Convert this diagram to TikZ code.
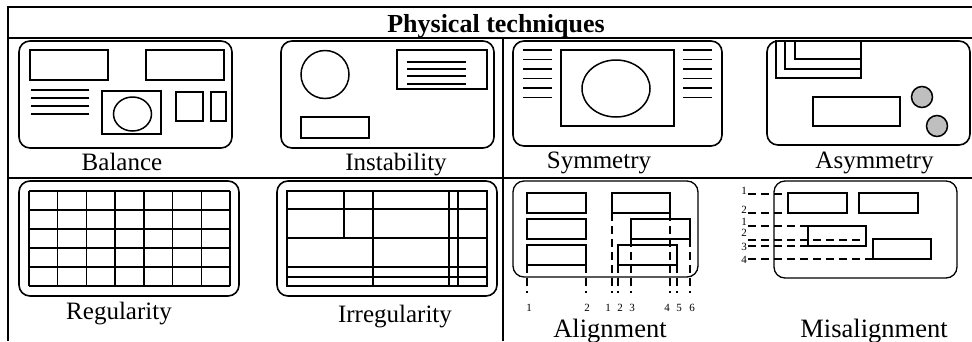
\documentclass[tikz,border=0pt]{standalone}
\usepackage{fontspec}
\setmainfont{Liberation Serif}
\begin{document}
\begin{tikzpicture}[x=1pt,y=-1pt,
  frame/.style={line width=2.4pt},
  card/.style={line width=1.6pt, rounded corners=11pt},
  shp/.style={line width=1.5pt},
  thin/.style={line width=1.2pt},
  rule/.style={line width=1.5pt},
  guide/.style={line width=1.1pt, dash pattern=on 8pt off 5pt},
  caption/.style={anchor=base, inner sep=0pt, font=\fontsize{25}{30}\selectfont},
  bigcaption/.style={anchor=base, inner sep=0pt, font=\fontsize{26.5}{32}\selectfont},
  tick/.style={anchor=base, inner sep=0pt, font=\fontsize{11}{13}\selectfont}]
\useasboundingbox (0,0) rectangle (972,341);

% table frame
\draw[frame] (8,7) -- (972,7);
\draw[frame] (8,38) -- (972,38);
\draw[frame] (8,178) -- (972,178);
\draw[frame] (8,6) -- (8,341);
\draw[frame] (503,38) -- (503,341);
\node[anchor=base, inner sep=0pt, font=\bfseries\fontsize{26}{31}\selectfont] (title) at (496,32) {Physical techniques};

% Balance
\draw[card] (19,41) rectangle (232,148);
\draw[shp] (30,50) rectangle (108,80);
\draw[shp] (146,50) rectangle (224,80);
\foreach \y in {90,98,106,114} \draw[rule] (31,\y) -- (89,\y);
\draw[shp] (102,91) rectangle (161,134);
\draw[shp] (132.5,114) ellipse [x radius=19pt, y radius=17pt];
\draw[shp] (176,92) rectangle (203,121);
\draw[shp] (211,92) rectangle (226,121);
\node[caption] (capBalance) at (122,170) {Balance};

% Instability
\draw[card] (281,41) rectangle (494,148);
\draw[shp] (325,74.5) circle [radius=24pt];
\draw[shp] (397,50) rectangle (487,89);
\foreach \y in {62,69,76,84} \draw[rule] (407,\y) -- (466,\y);
\draw[shp] (301,117) rectangle (369,138);
\node[caption] (capInstability) at (396,170) {Instability};

% Symmetry
\draw[card] (513,41) rectangle (722,146);
\foreach \y in {50,59.5,69,78.5,88,97.5} {
  \draw[rule] (523,\y) -- (552,\y);
  \draw[rule] (683,\y) -- (712,\y);
}
\draw[shp] (561,50) rectangle (674,126);
\draw[shp] (616,88.5) ellipse [x radius=34pt, y radius=28.5pt];
\node[caption] (capSymmetry) at (599,168) {Symmetry};

% Asymmetry
\draw[card] (767,41) rectangle (970,145);
\draw[shp] (776,40) |- (861,78) -- (861,40);
\draw[shp] (785,40) |- (861,69);
\draw[shp] (795,40) |- (861,59);
\draw[shp] (813,97) rectangle (900,126);
\draw[shp, fill=gray!50] (922,97) circle [radius=10.5pt];
\draw[shp, fill=gray!50] (937,126) circle [radius=10.5pt];
\node[caption] (capAsymmetry) at (874.5,168) {Asymmetry};

% Regularity
\draw[card] (19,181) rectangle (239,296);
\foreach \k in {0,...,7} \draw[rule] ({29+\k*28.714},191) -- ({29+\k*28.714},286);
\foreach \k in {0,...,5} \draw[rule] (29,{191+\k*19}) -- (230,{191+\k*19});
\node[caption] (capRegularity) at (119,319) {Regularity};

% Irregularity
\draw[card] (277,181) rectangle (497,296);
\draw[shp] (287,191) rectangle (487,286);
\foreach \y in {209,238,267,277} \draw[rule] (287,\y) -- (487,\y);
\draw[rule] (344,191) -- (344,238);
\foreach \x in {373,449,458} \draw[rule] (\x,191) -- (\x,286);
\node[caption] (capIrregularity) at (395,322) {Irregularity};

% Alignment
\draw[card, line width=1.3pt] (513,181) rectangle (698,277);
\draw[thin] (527,193) rectangle (586,213);
\draw[thin] (527,219) rectangle (586,239);
\draw[thin] (527,245) rectangle (586,265);
\draw[thin] (612,193) rectangle (670,213);
\draw[thin] (631,219) rectangle (690,239);
\draw[thin] (618,245) rectangle (677,265);
\draw[guide] (527,265) -- (527,293);
\draw[guide] (586,265) -- (586,293);
\draw[guide] (612,213) -- (612,293);
\draw[guide] (618,265) -- (618,293);
\draw[guide] (631,239) -- (631,293);
\draw[guide] (670,213) -- (670,293);
\draw[guide] (677,265) -- (677,293);
\draw[guide] (690,239) -- (690,293);
\node[tick] (a1) at (529,311) {1};
\node[tick] (a2) at (587,311) {2};
\node[tick] (b1) at (608,311) {1};
\node[tick] (b2) at (620,311) {2};
\node[tick] (b3) at (632,311) {3};
\node[tick] (b4) at (667,311) {4};
\node[tick] (b5) at (679,311) {5};
\node[tick] (b6) at (692,311) {6};
\node[bigcaption] (capAlignment) at (610,337) {Alignment};

% Misalignment
\draw[card, line width=1.3pt] (774,181) rectangle (957,278);
\draw[thin] (788,193) rectangle (847,213);
\draw[thin] (859,193) rectangle (918,213);
\draw[thin] (808,226) rectangle (866,246);
\draw[thin] (873,239) rectangle (931,259);
\draw[guide] (748,194) -- (788,194);
\draw[guide] (748,213) -- (788,213);
\draw[guide] (748,226) -- (808,226);
\draw[guide] (748,240) -- (866,240);
\draw[guide] (748,246) -- (840,246);
\draw[guide] (748,259) -- (873,259);
\node[tick, anchor=base east] (m1) at (747,194) {1};
\node[tick, anchor=base east] (m2) at (747,213) {2};
\node[tick, anchor=base east] (m3) at (747,225) {1};
\node[tick, anchor=base east] (m4) at (747,236) {2};
\node[tick, anchor=base east] (m5) at (747,250) {3};
\node[tick, anchor=base east] (m6) at (747,263) {4};
\node[bigcaption] (capMisalignment) at (874,337) {Misalignment};
\end{tikzpicture}
\end{document}
